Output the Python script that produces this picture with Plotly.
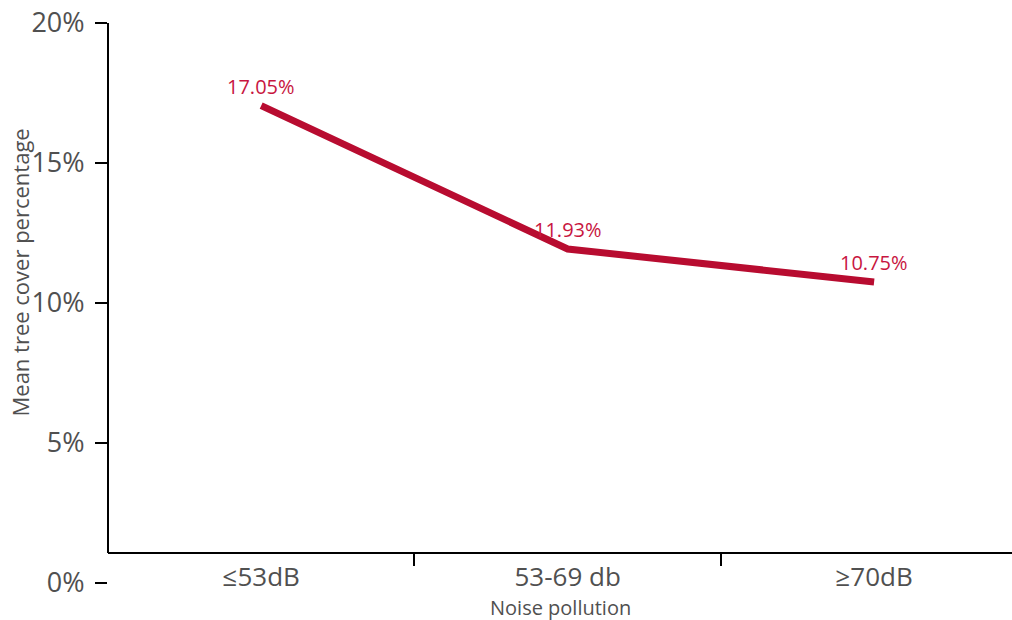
import plotly.graph_objects as go

# Mean tree cover by noise-pollution band
categories = ["≤53dB", "53-69 db", "≥70dB"]
tree_cover = [17.05, 11.93, 10.75]
labels = [f"{v:.2f}%" for v in tree_cover]
y_ticks = [0, 5, 10, 15, 20]
y_tick_text = [f"{t}%" for t in y_ticks]

LINE_RED = "#b80c30"
LABEL_RED = "#c8163f"
TEXT_GRAY = "#505050"
FONT = "Open Sans"

# where the category axis sits, as a fraction of the plot height
x_axis_pos = 30 / 560

fig = go.Figure(
    go.Scatter(
        x=categories,
        y=tree_cover,
        mode="lines",
        line=dict(color=LINE_RED, width=7),
        hoverinfo="skip",
    )
)

# value labels above each point
for cat, val, lab in zip(categories, tree_cover, labels):
    fig.add_annotation(
        x=cat, y=val, text=lab, showarrow=False,
        xanchor="center", yanchor="bottom", yshift=4,
        font=dict(family=FONT, size=20, color=LABEL_RED),
    )

fig.update_layout(
    width=1012,
    height=620,
    margin=dict(l=108, r=0, t=23, b=37),
    plot_bgcolor="white",
    paper_bgcolor="white",
    showlegend=False,
    font=dict(family=FONT, color=TEXT_GRAY),
    xaxis=dict(
        type="category",
        range=[-0.4999, 2.45],
        anchor="free",
        position=x_axis_pos,
        showline=True,
        linecolor="black",
        linewidth=2,
        showgrid=False,
        zeroline=False,
        ticks="outside",
        tickson="boundaries",
        ticklen=12,
        tickwidth=1.5,
        tickcolor="black",
        tickfont=dict(family=FONT, size=26, color=TEXT_GRAY),
        ticklabelstandoff=1,
    ),
    yaxis=dict(
        range=[0, 20],
        tickvals=y_ticks,
        ticktext=y_tick_text,
        showline=False,
        showgrid=False,
        zeroline=False,
        ticks="outside",
        ticklen=12,
        tickwidth=2,
        tickcolor="black",
        tickfont=dict(family=FONT, size=27, color=TEXT_GRAY),
        ticklabelstandoff=5,
    ),
)

# vertical axis line runs from the category axis up to the top
fig.add_shape(
    type="line", xref="paper", yref="paper",
    x0=0, x1=0, y0=x_axis_pos, y1=1,
    line=dict(color="black", width=2),
)

fig.add_annotation(
    text="Noise pollution", xref="paper", yref="paper",
    x=0.5, y=-0.043, xanchor="center", yanchor="middle",
    showarrow=False, font=dict(family=FONT, size=20, color=TEXT_GRAY),
)
fig.add_annotation(
    text="Mean tree cover percentage", xref="paper", yref="paper",
    x=-0.097, y=0.555, xanchor="center", yanchor="middle", textangle=-90,
    showarrow=False, font=dict(family=FONT, size=22, color=TEXT_GRAY),
)

fig.write_html("out.html")
